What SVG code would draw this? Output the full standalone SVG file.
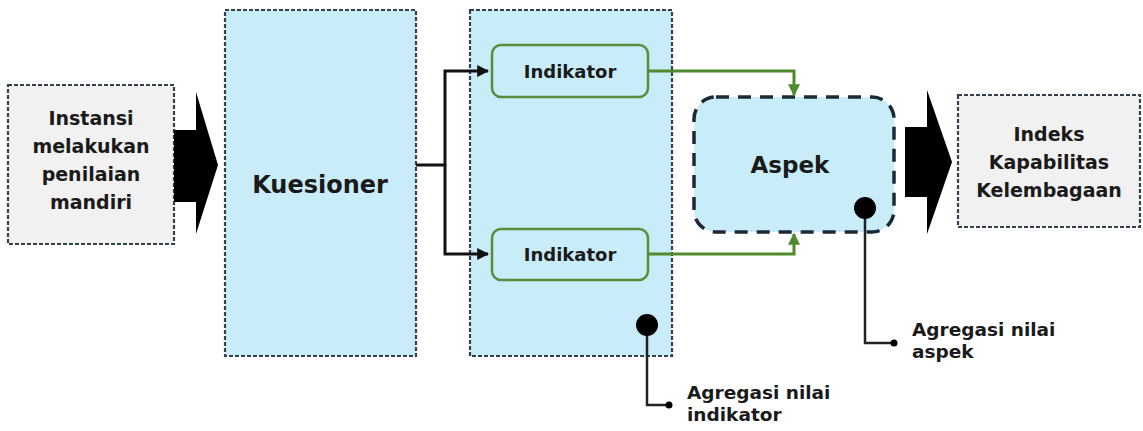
<svg xmlns="http://www.w3.org/2000/svg" width="1143" height="431" viewBox="0 0 1143 431">
<defs>
<style>
.t{font-family:"DejaVu Sans","Liberation Sans",sans-serif;font-weight:bold;fill:#1a1a1a;text-anchor:middle}
.tl{font-family:"DejaVu Sans","Liberation Sans",sans-serif;font-weight:bold;fill:#1a1a1a;text-anchor:start;font-size:18.5px}
.gray{fill:#f1f1f1;stroke:#34404c;stroke-width:2.2;stroke-dasharray:4 2}
.blue{fill:#c9ecf9;stroke:#34404c;stroke-width:2.2;stroke-dasharray:4 2}
.ind{fill:#c9ecf9;stroke:#5a8c3e;stroke-width:2.5}
.blk{fill:none;stroke:#111;stroke-width:3}
.grn{fill:none;stroke:#4f8a2e;stroke-width:3}
.cal{fill:none;stroke:#222;stroke-width:2.5}
</style>
<marker id="ab" viewBox="0 0 10 10" refX="9" refY="5" markerWidth="4" markerHeight="4" orient="auto" markerUnits="strokeWidth"><path d="M0,0 L10,5 L0,10 z" fill="#111"/></marker>
<marker id="ag" viewBox="0 0 10 10" refX="9" refY="5" markerWidth="4" markerHeight="4" orient="auto" markerUnits="strokeWidth"><path d="M0,0 L10,5 L0,10 z" fill="#4f8a2e"/></marker>
</defs>

<g id="node-instansi">
<rect class="gray" x="8" y="85" width="166" height="159"/>
<text class="t" font-size="19" x="91" y="125">Instansi</text>
<text class="t" font-size="19" x="91" y="153">melakukan</text>
<text class="t" font-size="19" x="91" y="181">penilaian</text>
<text class="t" font-size="19" x="91" y="209">mandiri</text>
</g>

<g id="node-arrow1">
<polygon points="174,130 196,130 196,92 218,165 196,234 196,202 174,202" fill="#000"/>
</g>

<g id="node-kuesioner">
<rect class="blue" x="225" y="10" width="191" height="346"/>
<text class="t" font-size="24" x="320" y="193">Kuesioner</text>
</g>

<g id="node-indikator-group">
<rect class="blue" x="470" y="10" width="202" height="346"/>
</g>

<g id="node-indikator1">
<rect class="ind" x="492" y="45" width="156" height="52" rx="9"/>
<text class="t" font-size="18" x="570" y="78">Indikator</text>
</g>

<g id="node-indikator2">
<rect class="ind" x="492" y="229" width="156" height="51" rx="9"/>
<text class="t" font-size="18" x="570" y="261">Indikator</text>
</g>

<g id="node-aspek">
<rect x="694" y="97" width="200" height="135" rx="22" fill="#c9ecf9" stroke="#1c2a36" stroke-width="3.5" stroke-dasharray="13 9"/>
<text class="t" font-size="23" x="790" y="173">Aspek</text>
</g>

<g id="node-arrow2">
<polygon points="905,127 927,127 927,90 952,162 927,234 927,197 905,197" fill="#000"/>
</g>

<g id="node-indeks">
<rect class="gray" x="958" y="95" width="182" height="132"/>
<text class="t" font-size="19" x="1049" y="141">Indeks</text>
<text class="t" font-size="19" x="1049" y="169">Kapabilitas</text>
<text class="t" font-size="19" x="1049" y="197">Kelembagaan</text>
</g>

<g id="connectors">
<path class="blk" d="M416,165 H445 V71 H488" marker-end="url(#ab)"/>
<path class="blk" d="M445,165 V254 H488" marker-end="url(#ab)"/>
<path class="grn" d="M648,71 H794 V95" marker-end="url(#ag)"/>
<path class="grn" d="M648,254 H794 V234" marker-end="url(#ag)"/>
<path class="cal" d="M647,325 V405 H668"/>
<circle cx="647" cy="325" r="11" fill="#000"/>
<circle cx="669" cy="405" r="3.5" fill="#000"/>
<path class="cal" d="M865,208 V343 H893"/>
<circle cx="865" cy="208" r="11" fill="#000"/>
<circle cx="894" cy="343" r="3.5" fill="#000"/>
</g>

<g id="labels">
<text class="tl" x="687" y="399">Agregasi nilai</text>
<text class="tl" x="687" y="421">indikator</text>
<text class="tl" x="912" y="336">Agregasi nilai</text>
<text class="tl" x="912" y="358">aspek</text>
</g>
</svg>
